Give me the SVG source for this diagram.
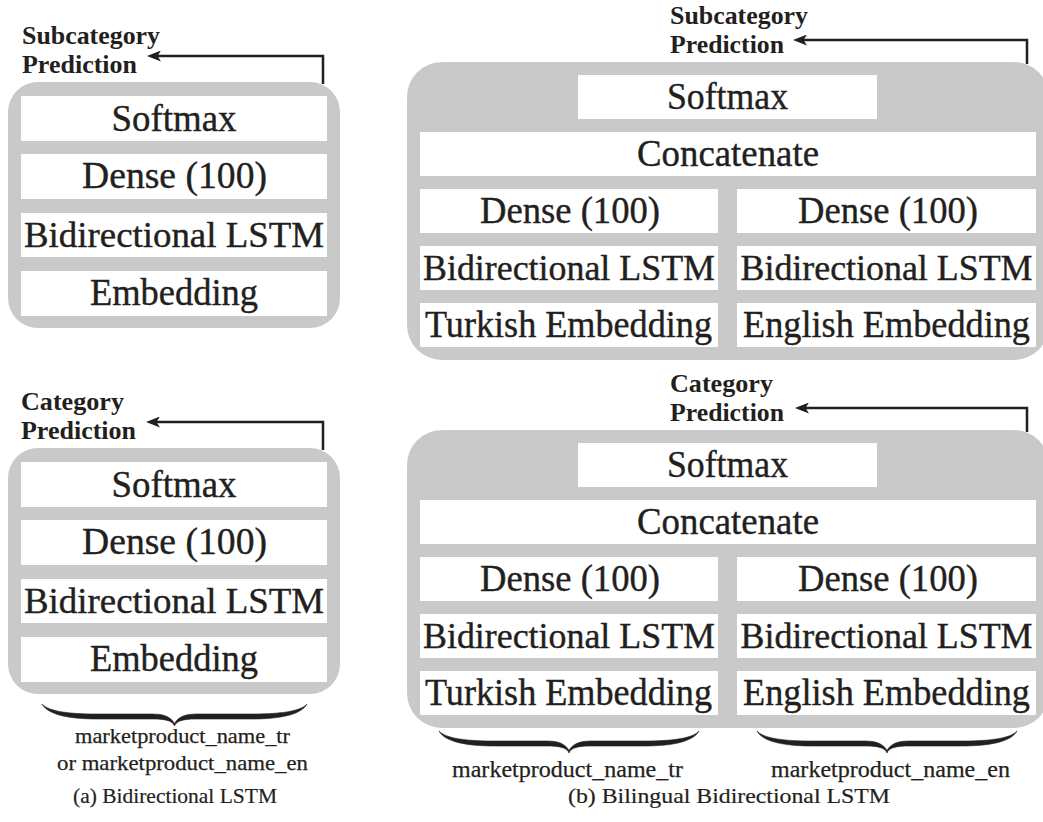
<svg xmlns="http://www.w3.org/2000/svg" width="1043" height="822" viewBox="0 0 1043 822">
<defs>
<style>
.panel{fill:#c8c9c8}
.row{fill:#ffffff}
.t{font-family:"Liberation Serif","Times New Roman",serif;font-size:38px;fill:#231f20;stroke:#231f20;stroke-width:0.4;text-anchor:middle}
.w{font-size:36px}
.lb{font-family:"Liberation Serif","Times New Roman",serif;font-weight:bold;font-size:25px;fill:#231f20}
.in{font-family:"Liberation Serif","Times New Roman",serif;font-size:23px;fill:#231f20;stroke:#231f20;stroke-width:0.25;text-anchor:middle}
.sm{font-size:22px}
.cap{font-family:"Liberation Serif","Times New Roman",serif;font-size:21px;fill:#231f20;stroke:#231f20;stroke-width:0.2;text-anchor:middle}
.conn{fill:none;stroke:#231f20;stroke-width:2.5}
.brace{fill:#231f20;stroke:#231f20;stroke-width:0.6;stroke-linejoin:round}
</style>
<marker id="ah" viewBox="0 0 14 11" refX="5" refY="5.5" markerWidth="14" markerHeight="11" markerUnits="userSpaceOnUse" orient="auto">
<path d="M14,5.5 L0,0 L3.5,5.5 L0,11 Z" fill="#231f20"/>
</marker>
</defs>
<rect width="1043" height="822" fill="#ffffff"/>

<!-- (a) top: subcategory -->
<g id="a-sub-panel">
<rect class="panel" x="8" y="82" width="332" height="246" rx="30"/>
</g>
<g id="a-sub-softmax"><rect class="row" x="21" y="96" width="306" height="45"/><text class="t" x="174" y="131" textLength="125" lengthAdjust="spacingAndGlyphs">Softmax</text></g>
<g id="a-sub-dense"><rect class="row" x="21" y="154" width="306" height="45"/><text class="t" x="174.5" y="188" textLength="185" lengthAdjust="spacingAndGlyphs">Dense (100)</text></g>
<g id="a-sub-lstm"><rect class="row" x="21" y="213" width="306" height="44"/><text class="t w" x="174" y="247" textLength="300" lengthAdjust="spacingAndGlyphs">Bidirectional LSTM</text></g>
<g id="a-sub-emb"><rect class="row" x="21" y="271" width="306" height="45"/><text class="t" x="174" y="305" textLength="168" lengthAdjust="spacingAndGlyphs">Embedding</text></g>
<g id="a-sub-label"><text class="lb" x="22" y="44" textLength="138" lengthAdjust="spacingAndGlyphs">Subcategory</text><text class="lb" x="22" y="73" textLength="115" lengthAdjust="spacingAndGlyphs">Prediction</text></g>

<!-- (a) bottom: category -->
<g id="a-cat-panel">
<rect class="panel" x="8" y="448" width="332" height="246" rx="30"/>
</g>
<g id="a-cat-softmax"><rect class="row" x="21" y="462" width="306" height="45"/><text class="t" x="174" y="497" textLength="125" lengthAdjust="spacingAndGlyphs">Softmax</text></g>
<g id="a-cat-dense"><rect class="row" x="21" y="520" width="306" height="45"/><text class="t" x="174.5" y="554" textLength="185" lengthAdjust="spacingAndGlyphs">Dense (100)</text></g>
<g id="a-cat-lstm"><rect class="row" x="21" y="579" width="306" height="44"/><text class="t w" x="174" y="613" textLength="300" lengthAdjust="spacingAndGlyphs">Bidirectional LSTM</text></g>
<g id="a-cat-emb"><rect class="row" x="21" y="637" width="306" height="45"/><text class="t" x="174" y="671" textLength="168" lengthAdjust="spacingAndGlyphs">Embedding</text></g>
<g id="a-cat-label"><text class="lb" x="21" y="410" textLength="103" lengthAdjust="spacingAndGlyphs">Category</text><text class="lb" x="21" y="439" textLength="115" lengthAdjust="spacingAndGlyphs">Prediction</text></g>

<!-- (b) top: subcategory -->
<g id="b-sub-panel">
<rect class="panel" x="407" y="62" width="642" height="298" rx="35"/>
</g>
<g id="b-sub-softmax"><rect class="row" x="578" y="75" width="299" height="44"/><text class="t" x="727.5" y="109" textLength="121" lengthAdjust="spacingAndGlyphs">Softmax</text></g>
<g id="b-sub-concat"><rect class="row" x="420" y="132" width="616" height="44"/><text class="t" x="728" y="166" textLength="182" lengthAdjust="spacingAndGlyphs">Concatenate</text></g>
<g id="b-sub-dense-tr"><rect class="row" x="420" y="189" width="298" height="44"/><text class="t" x="570" y="223" textLength="180" lengthAdjust="spacingAndGlyphs">Dense (100)</text></g>
<g id="b-sub-dense-en"><rect class="row" x="737" y="189" width="299" height="44"/><text class="t" x="888" y="223" textLength="180" lengthAdjust="spacingAndGlyphs">Dense (100)</text></g>
<g id="b-sub-lstm-tr"><rect class="row" x="420" y="246" width="298" height="44"/><text class="t w" x="569" y="280" textLength="292" lengthAdjust="spacingAndGlyphs">Bidirectional LSTM</text></g>
<g id="b-sub-lstm-en"><rect class="row" x="737" y="246" width="299" height="44"/><text class="t w" x="886.5" y="280" textLength="292" lengthAdjust="spacingAndGlyphs">Bidirectional LSTM</text></g>
<g id="b-sub-emb-tr"><rect class="row" x="420" y="303" width="298" height="44"/><text class="t" x="568.5" y="337" textLength="287" lengthAdjust="spacingAndGlyphs">Turkish Embedding</text></g>
<g id="b-sub-emb-en"><rect class="row" x="737" y="303" width="299" height="44"/><text class="t" x="886.5" y="337" textLength="287" lengthAdjust="spacingAndGlyphs">English Embedding</text></g>
<g id="b-sub-label"><text class="lb" x="670" y="24" textLength="138" lengthAdjust="spacingAndGlyphs">Subcategory</text><text class="lb" x="670" y="53" textLength="114" lengthAdjust="spacingAndGlyphs">Prediction</text></g>

<!-- (b) bottom: category -->
<g id="b-cat-panel">
<rect class="panel" x="407" y="430" width="642" height="298" rx="35"/>
</g>
<g id="b-cat-softmax"><rect class="row" x="578" y="443" width="299" height="44"/><text class="t" x="727.5" y="477" textLength="121" lengthAdjust="spacingAndGlyphs">Softmax</text></g>
<g id="b-cat-concat"><rect class="row" x="420" y="500" width="616" height="44"/><text class="t" x="728" y="534" textLength="182" lengthAdjust="spacingAndGlyphs">Concatenate</text></g>
<g id="b-cat-dense-tr"><rect class="row" x="420" y="557" width="298" height="44"/><text class="t" x="570" y="591" textLength="180" lengthAdjust="spacingAndGlyphs">Dense (100)</text></g>
<g id="b-cat-dense-en"><rect class="row" x="737" y="557" width="299" height="44"/><text class="t" x="888" y="591" textLength="180" lengthAdjust="spacingAndGlyphs">Dense (100)</text></g>
<g id="b-cat-lstm-tr"><rect class="row" x="420" y="614" width="298" height="44"/><text class="t w" x="569" y="648" textLength="292" lengthAdjust="spacingAndGlyphs">Bidirectional LSTM</text></g>
<g id="b-cat-lstm-en"><rect class="row" x="737" y="614" width="299" height="44"/><text class="t w" x="886.5" y="648" textLength="292" lengthAdjust="spacingAndGlyphs">Bidirectional LSTM</text></g>
<g id="b-cat-emb-tr"><rect class="row" x="420" y="671" width="298" height="44"/><text class="t" x="568.5" y="705" textLength="287" lengthAdjust="spacingAndGlyphs">Turkish Embedding</text></g>
<g id="b-cat-emb-en"><rect class="row" x="737" y="671" width="299" height="44"/><text class="t" x="886.5" y="705" textLength="287" lengthAdjust="spacingAndGlyphs">English Embedding</text></g>
<g id="b-cat-label"><text class="lb" x="670" y="392" textLength="103" lengthAdjust="spacingAndGlyphs">Category</text><text class="lb" x="670" y="421" textLength="114" lengthAdjust="spacingAndGlyphs">Prediction</text></g>

<!-- connectors -->
<g id="connectors">
<path class="conn" d="M323,84 L323,56 L156,56" marker-end="url(#ah)"/>
<path class="conn" d="M323,450 L323,422 L155,422" marker-end="url(#ah)"/>
<path class="conn" d="M1027,64 L1027,40 L802,40" marker-end="url(#ah)"/>
<path class="conn" d="M1027,432 L1027,408 L804,408" marker-end="url(#ah)"/>
</g>

<!-- braces and inputs -->
<g id="a-input">
<path class="brace" transform="translate(42,705)" d="M0,-1 C6,10 28,14 55,14 L110.5,14 C124.5,14 130.5,16 132.5,21 C134.5,16 140.5,14 154.5,14 L210,14 C237,14 259,10 265,-1 C258,7 235,9 210,9 L154.5,9 C143,9 136,12 132.5,18.5 C129,12 122,9 110.5,9 L55,9 C30,9 7,7 0,-1 Z"/>
<text class="in sm" x="182.5" y="743" textLength="215" lengthAdjust="spacingAndGlyphs">marketproduct_name_tr</text>
<text class="in sm" x="182.5" y="770" textLength="251" lengthAdjust="spacingAndGlyphs">or marketproduct_name_en</text>
</g>
<g id="b-input-tr">
<path class="brace" transform="translate(439,732)" d="M0,-1 C6,10 28,14 55,14 L108,14 C122,14 128,16 130,21 C132,16 138,14 152,14 L205,14 C232,14 254,10 260,-1 C253,7 230,9 205,9 L152,9 C140.5,9 133.5,12 130,18.5 C126.5,12 119.5,9 108,9 L55,9 C30,9 7,7 0,-1 Z"/>
<text class="in" x="567.5" y="777" textLength="231" lengthAdjust="spacingAndGlyphs">marketproduct_name_tr</text>
</g>
<g id="b-input-en">
<path class="brace" transform="translate(757,732)" d="M0,-1 C6,10 28,14 55,14 L108,14 C122,14 128,16 130,21 C132,16 138,14 152,14 L205,14 C232,14 254,10 260,-1 C253,7 230,9 205,9 L152,9 C140.5,9 133.5,12 130,18.5 C126.5,12 119.5,9 108,9 L55,9 C30,9 7,7 0,-1 Z"/>
<text class="in" x="890.5" y="777" textLength="239" lengthAdjust="spacingAndGlyphs">marketproduct_name_en</text>
</g>

<g id="captions">
<text class="cap" x="175" y="803" textLength="204" lengthAdjust="spacingAndGlyphs">(a) Bidirectional LSTM</text>
<text class="cap" x="729" y="803" textLength="322" lengthAdjust="spacingAndGlyphs">(b) Bilingual Bidirectional LSTM</text>
</g>
</svg>
